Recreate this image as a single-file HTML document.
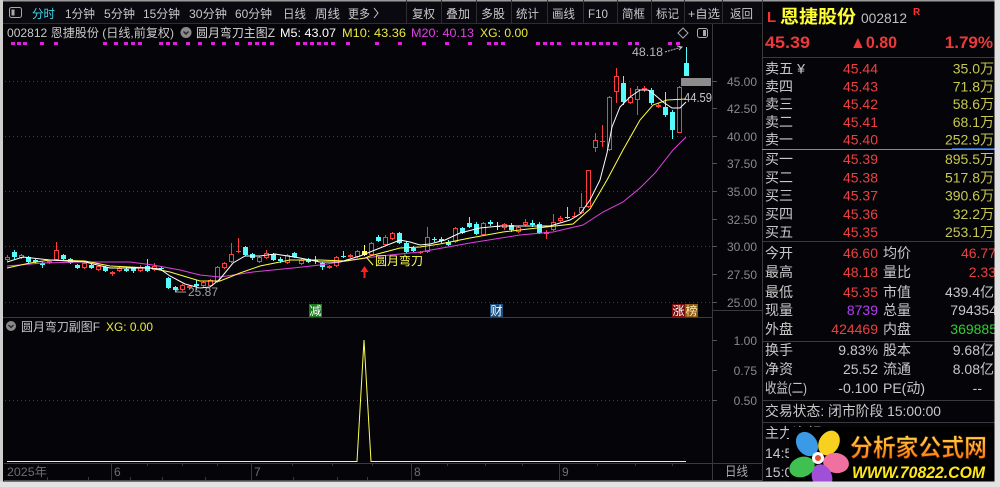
<!DOCTYPE html>
<html><head><meta charset="utf-8">
<style>
html,body{margin:0;padding:0;background:#050509;width:1000px;height:487px;overflow:hidden;}
svg{display:block;}
text{font-family:"Liberation Sans","Noto Sans CJK SC",sans-serif;}
.wr{stroke:#ff3c3c;stroke-width:1;fill:none}
.rb{fill:#050509;stroke:#ff3c3c;stroke-width:1}
.wc{stroke:#54fcfc;stroke-width:1;fill:none}
.cb{fill:#54fcfc}
.tb{fill:#c8c8c8;font-size:12px}
.ax{fill:#8a8a8a;font-size:12px}
.lb{fill:#c8c8c8;font-size:14px}
.rd{fill:#ec4040;font-size:14px}
.ol{fill:#c8c850;font-size:14px}
.gy{fill:#c8c8c8;font-size:14px}
</style></head><body>
<svg width="1000" height="487" viewBox="0 0 1000 487" xmlns="http://www.w3.org/2000/svg">
<defs>
<linearGradient id="og" x1="0" y1="0" x2="0" y2="1">
<stop offset="0" stop-color="#ffd84a"/><stop offset="1" stop-color="#ff6a00"/>
</linearGradient>
</defs>
<rect width="1000" height="487" fill="#050509"/>
<!-- toolbar -->
<rect x="0" y="0" width="762" height="23" fill="#09090f"/>
<rect x="0" y="0" width="1000" height="1.5" fill="#9a9a9a"/>
<line x1="0" y1="23.5" x2="762" y2="23.5" stroke="#2e2e2e"/>
<rect x="9.5" y="7.5" width="12" height="10" rx="2" fill="none" stroke="#aaa"/>
<rect x="11.5" y="9.5" width="3" height="6" fill="#aaa"/>
<text x="32" y="18" class="tb" style="fill:#40d8e8" textLength="23" lengthAdjust="spacingAndGlyphs">分时</text>
<text x="65" y="18" class="tb" textLength="30" lengthAdjust="spacingAndGlyphs">1分钟</text>
<text x="104" y="18" class="tb" textLength="31" lengthAdjust="spacingAndGlyphs">5分钟</text>
<text x="143" y="18" class="tb" textLength="37" lengthAdjust="spacingAndGlyphs">15分钟</text>
<text x="189" y="18" class="tb" textLength="38" lengthAdjust="spacingAndGlyphs">30分钟</text>
<text x="235" y="18" class="tb" textLength="37" lengthAdjust="spacingAndGlyphs">60分钟</text>
<text x="283" y="18" class="tb" textLength="23" lengthAdjust="spacingAndGlyphs">日线</text>
<text x="315" y="18" class="tb" textLength="25" lengthAdjust="spacingAndGlyphs">周线</text>
<text x="348" y="18" class="tb" textLength="22" lengthAdjust="spacingAndGlyphs">更多</text>
<path d="M374 8 L378 13 L374 18" fill="none" stroke="#c8c8c8" stroke-width="1"/>
<g stroke="#2e2e2e">
<line x1="406.5" y1="0" x2="406.5" y2="23"/><line x1="441.5" y1="0" x2="441.5" y2="23"/>
<line x1="476.5" y1="0" x2="476.5" y2="23"/><line x1="511.5" y1="0" x2="511.5" y2="23"/>
<line x1="547.5" y1="0" x2="547.5" y2="23"/><line x1="583.5" y1="0" x2="583.5" y2="23"/>
<line x1="617.5" y1="0" x2="617.5" y2="23"/><line x1="651.5" y1="0" x2="651.5" y2="23"/>
<line x1="684.5" y1="0" x2="684.5" y2="23"/><line x1="722.5" y1="0" x2="722.5" y2="23"/>
</g>
<text x="412" y="18" class="tb" textLength="23" lengthAdjust="spacingAndGlyphs">复权</text>
<text x="446" y="18" class="tb" textLength="24" lengthAdjust="spacingAndGlyphs">叠加</text>
<text x="481" y="18" class="tb" textLength="24" lengthAdjust="spacingAndGlyphs">多股</text>
<text x="516" y="18" class="tb" textLength="23" lengthAdjust="spacingAndGlyphs">统计</text>
<text x="552" y="18" class="tb" textLength="23" lengthAdjust="spacingAndGlyphs">画线</text>
<text x="588" y="18" class="tb" textLength="20" lengthAdjust="spacingAndGlyphs">F10</text>
<text x="622" y="18" class="tb" textLength="23" lengthAdjust="spacingAndGlyphs">简框</text>
<text x="656" y="18" class="tb" textLength="23" lengthAdjust="spacingAndGlyphs">标记</text>
<text x="688" y="18" class="tb" textLength="32" lengthAdjust="spacingAndGlyphs">+自选</text>
<text x="730" y="18" class="tb" textLength="23" lengthAdjust="spacingAndGlyphs">返回</text>

<!-- chart header -->
<text x="7" y="37" class="tb" textLength="167" lengthAdjust="spacingAndGlyphs">002812 恩捷股份 (日线,前复权)</text>
<circle cx="186" cy="32.5" r="5.5" fill="#8a8a8a"/>
<path d="M183.5 31.5 L186 34 L188.5 31.5" fill="none" stroke="#222" stroke-width="1.4"/>
<text x="196" y="37" class="tb" style="fill:#d8d8d8" textLength="79" lengthAdjust="spacingAndGlyphs">圆月弯刀主图Z</text>
<text x="280" y="37" font-size="12" fill="#ffffff" textLength="56" lengthAdjust="spacingAndGlyphs">M5: 43.07</text>
<text x="342" y="37" font-size="12" fill="#e8e840" textLength="64" lengthAdjust="spacingAndGlyphs">M10: 43.36</text>
<text x="411" y="37" font-size="12" fill="#e040e0" textLength="63" lengthAdjust="spacingAndGlyphs">M20: 40.13</text>
<text x="480" y="37" font-size="12" fill="#e8e840" textLength="48" lengthAdjust="spacingAndGlyphs">XG: 0.00</text>
<path d="M683 28 L688 33 L683 38 L678 33 Z" fill="none" stroke="#aaa"/>
<rect x="697.5" y="28.5" width="10" height="9" rx="2" fill="none" stroke="#aaa"/>
<rect x="703" y="30" width="3" height="6" fill="#aaa"/>

<!-- magenta dots -->
<g fill="#e020e0">
<rect x="11" y="42" width="4" height="3"/><rect x="17" y="42" width="4" height="3"/><rect x="23" y="42" width="4" height="3"/>
<rect x="40" y="42" width="4" height="3"/><rect x="54" y="42" width="4" height="3"/><rect x="103" y="42" width="4" height="3"/>
<rect x="114" y="42" width="4" height="3"/><rect x="124" y="42" width="4" height="3"/><rect x="131" y="42" width="4" height="3"/>
<rect x="138" y="42" width="4" height="3"/><rect x="159" y="42" width="4" height="3"/><rect x="166" y="42" width="4" height="3"/>
<rect x="173" y="42" width="4" height="3"/><rect x="186" y="42" width="4" height="3"/><rect x="198" y="42" width="4" height="3"/>
<rect x="211" y="42" width="4" height="3"/><rect x="222" y="42" width="4" height="3"/><rect x="235" y="42" width="4" height="3"/>
<rect x="248" y="42" width="4" height="3"/><rect x="255" y="42" width="4" height="3"/><rect x="262" y="42" width="4" height="3"/>
<rect x="270" y="42" width="4" height="3"/><rect x="296" y="42" width="4" height="3"/><rect x="303" y="42" width="4" height="3"/>
<rect x="310" y="42" width="4" height="3"/><rect x="317" y="42" width="4" height="3"/><rect x="324" y="42" width="4" height="3"/>
<rect x="331" y="42" width="4" height="3"/><rect x="346" y="42" width="4" height="3"/><rect x="375" y="42" width="4" height="3"/>
<rect x="398" y="42" width="4" height="3"/><rect x="422" y="42" width="4" height="3"/><rect x="445" y="42" width="4" height="3"/>
<rect x="468" y="42" width="4" height="3"/><rect x="487" y="42" width="4" height="3"/><rect x="494" y="42" width="4" height="3"/>
<rect x="501" y="42" width="4" height="3"/><rect x="536" y="42" width="4" height="3"/><rect x="543" y="42" width="4" height="3"/>
<rect x="550" y="42" width="4" height="3"/><rect x="557" y="42" width="4" height="3"/><rect x="571" y="42" width="4" height="3"/>
<rect x="578" y="42" width="4" height="3"/><rect x="585" y="42" width="4" height="3"/><rect x="592" y="42" width="4" height="3"/>
<rect x="599" y="42" width="4" height="3"/><rect x="606" y="42" width="4" height="3"/><rect x="613" y="42" width="4" height="3"/>
<rect x="628" y="42" width="4" height="3"/><rect x="635" y="42" width="4" height="3"/><rect x="668" y="42" width="4" height="3"/>
<rect x="676" y="42" width="4" height="3"/>
</g>

<!-- grid -->
<g stroke="#3c3c4a" stroke-dasharray="1,3">
<line x1="5" y1="81.5" x2="712" y2="81.5"/>
<line x1="5" y1="136.5" x2="712" y2="136.5"/>
<line x1="5" y1="191.5" x2="712" y2="191.5"/>
<line x1="5" y1="246.5" x2="712" y2="246.5"/>
<line x1="5" y1="302.5" x2="712" y2="302.5"/>
<line x1="5" y1="400.5" x2="712" y2="400.5"/>
</g>

<!-- panel borders -->
<line x1="712.5" y1="24" x2="712.5" y2="480" stroke="#3a3a3a"/>
<line x1="762.5" y1="0" x2="762.5" y2="481" stroke="#3a3a3a"/>
<line x1="0" y1="317.5" x2="712" y2="317.5" stroke="#3a3a3a"/>
<line x1="712" y1="310.5" x2="762" y2="310.5" stroke="#3a3a3a"/>

<!-- price axis -->
<g stroke="#555">
<line x1="712" y1="81.5" x2="717" y2="81.5"/><line x1="712" y1="108.5" x2="717" y2="108.5"/>
<line x1="712" y1="136.5" x2="717" y2="136.5"/><line x1="712" y1="163.5" x2="717" y2="163.5"/>
<line x1="712" y1="191.5" x2="717" y2="191.5"/><line x1="712" y1="219.5" x2="717" y2="219.5"/>
<line x1="712" y1="246.5" x2="717" y2="246.5"/><line x1="712" y1="274.5" x2="717" y2="274.5"/>
<line x1="712" y1="302.5" x2="717" y2="302.5"/>
<line x1="712" y1="340.5" x2="717" y2="340.5"/><line x1="712" y1="370.5" x2="717" y2="370.5"/>
<line x1="712" y1="400.5" x2="717" y2="400.5"/>
</g>
<g class="ax" text-anchor="end">
<text x="757" y="86" class="ax">45.00</text>
<text x="757" y="113" class="ax">42.50</text>
<text x="757" y="141" class="ax">40.00</text>
<text x="757" y="168" class="ax">37.50</text>
<text x="757" y="196" class="ax">35.00</text>
<text x="757" y="224" class="ax">32.50</text>
<text x="757" y="251" class="ax">30.00</text>
<text x="757" y="279" class="ax">27.50</text>
<text x="757" y="307" class="ax">25.00</text>
<text x="757" y="345" class="ax">1.00</text>
<text x="757" y="375" class="ax">0.75</text>
<text x="757" y="405" class="ax">0.50</text>
</g>

<!-- candles -->
<g>
<path class="wr" d="M7.5 255V261"/><rect class="rb" x="5.5" y="257.5" width="4" height="2"/>
<path class="wc" d="M14.5 250V259"/><rect class="cb" x="12" y="252" width="5" height="5"/>
<path class="wr" d="M21.5 254V259"/><rect class="rb" x="19.5" y="255.5" width="4" height="2"/>
<path class="wc" d="M28.5 256V263"/><rect class="cb" x="26" y="257" width="5" height="5"/>
<path class="wc" d="M35.5 259V264"/><rect class="cb" x="33" y="260" width="5" height="2"/>
<path class="wc" d="M42.5 262V268"/><rect class="cb" x="40" y="263" width="5" height="2"/>
<path class="wr" d="M49.5 260V264"/><rect class="rb" x="47.5" y="261.5" width="4" height="1"/>
<path class="wr" d="M56.5 242V261"/><rect class="rb" x="54.5" y="250.5" width="4" height="9"/>
<path class="wc" d="M63.5 254V260"/><rect class="cb" x="61" y="255" width="5" height="4"/>
<path class="wc" d="M70.5 258V264"/><rect class="cb" x="68" y="259" width="5" height="4"/>
<path class="wc" d="M77.5 264V269"/><rect class="cb" x="75" y="265" width="5" height="3"/>
<path class="wr" d="M84.5 262V269"/><rect class="rb" x="82.5" y="263.5" width="4" height="4"/>
<path class="wc" d="M91.5 264V269"/><rect class="cb" x="89" y="265" width="5" height="3"/>
<path class="wr" d="M98.5 265V271"/><rect class="rb" x="96.5" y="266.5" width="4" height="3"/>
<path class="wc" d="M105.5 266V272"/><rect class="cb" x="103" y="267" width="5" height="4"/>
<path class="wr" d="M112.5 271V276"/><rect class="rb" x="110.5" y="272.5" width="4" height="1"/>
<path class="wr" d="M119.5 267V272"/><rect class="rb" x="117.5" y="268.5" width="4" height="2"/>
<path class="wc" d="M126.5 267V272"/><rect class="cb" x="124" y="269" width="5" height="2"/>
<path class="wc" d="M133.5 267V273"/><rect class="cb" x="131" y="268" width="5" height="3"/>
<path class="wr" d="M140.5 265V272"/><rect class="rb" x="138.5" y="267.5" width="4" height="3"/>
<path class="wc" d="M147.5 259V272"/><rect class="cb" x="145" y="266" width="5" height="5"/>
<path class="wr" d="M154.5 263V271"/><rect class="rb" x="152.5" y="266.5" width="4" height="3"/>
<path class="wc" d="M161.5 266V271"/><rect class="cb" x="159" y="268" width="5" height="1"/>
<path class="wc" d="M168.5 277V289"/><rect class="cb" x="166" y="278" width="5" height="10"/>
<path class="wc" d="M175.5 286V292"/><rect class="cb" x="173" y="287" width="5" height="3"/>
<path class="wr" d="M182.5 284V291"/><rect class="rb" x="180.5" y="285.5" width="4" height="4"/>
<path class="wr" d="M189.5 285V289"/><rect class="rb" x="187.5" y="286.5" width="4" height="1"/>
<path class="wc" d="M196.5 280V290"/><rect class="cb" x="194" y="284" width="5" height="2"/>
<path class="wr" d="M203.5 281V288"/><rect class="rb" x="201.5" y="282.5" width="4" height="3"/>
<path class="wr" d="M210.5 279V287"/><rect class="rb" x="208.5" y="280.5" width="4" height="5"/>
<path class="wr" d="M217.5 266V283"/><rect class="rb" x="215.5" y="267.5" width="4" height="14"/>
<path class="wr" d="M224.5 262V269"/><rect class="rb" x="222.5" y="263.5" width="4" height="4"/>
<path class="wr" d="M231.5 243V263"/><rect class="rb" x="229.5" y="254.5" width="4" height="7"/>
<path class="wr" d="M238.5 238V253"/><path class="wr" d="M236 251.5H241"/>
<path class="wc" d="M245.5 246V256"/><rect class="cb" x="243" y="247" width="5" height="8"/>
<path class="wc" d="M252.5 253V260"/><rect class="cb" x="250" y="254" width="5" height="4"/>
<path class="wr" d="M259.5 256V263"/><rect class="rb" x="257.5" y="257.5" width="4" height="4"/>
<path class="wr" d="M266.5 250V259"/><rect class="rb" x="264.5" y="253.5" width="4" height="4"/>
<path class="wc" d="M273.5 253V261"/><rect class="cb" x="271" y="254" width="5" height="6"/>
<path class="wc" d="M280.5 257V263"/><rect class="cb" x="278" y="259" width="5" height="2"/>
<path class="wr" d="M287.5 254V264"/><rect class="rb" x="285.5" y="255.5" width="4" height="7"/>
<path class="wc" d="M294.5 252V258"/><rect class="cb" x="292" y="253" width="5" height="4"/>
<path class="wr" d="M301.5 259V265"/><rect class="rb" x="299.5" y="260.5" width="4" height="3"/>
<path class="wc" d="M308.5 258V263"/><rect class="cb" x="306" y="259" width="5" height="3"/>
<path class="wc" d="M315.5 256V264"/><rect class="cb" x="313" y="260" width="5" height="1"/>
<path class="wc" d="M322.5 262V270"/><rect class="cb" x="320" y="263" width="5" height="4"/>
<path class="wr" d="M329.5 265V269"/><rect class="rb" x="327.5" y="266.5" width="4" height="1"/>
<path class="wr" d="M336.5 256V267"/><rect class="rb" x="334.5" y="257.5" width="4" height="8"/>
<path class="wc" d="M343.5 251V258"/><rect class="cb" x="341" y="256" width="5" height="1"/>
<path class="wr" d="M350.5 254V258"/><rect class="rb" x="348.5" y="255.5" width="4" height="1"/>
<path class="wr" d="M357.5 250V258"/><rect class="rb" x="355.5" y="251.5" width="4" height="5"/>
<path d="M364.5 245V256" stroke="#ffff60" fill="none"/><rect x="362" y="251" width="5" height="4" fill="#ffff60"/>
<path class="wr" d="M371.5 242V256"/><rect class="rb" x="369.5" y="243.5" width="4" height="11"/>
<path class="wc" d="M378.5 235V242"/><rect class="cb" x="376" y="237" width="5" height="4"/>
<path class="wr" d="M385.5 235V246"/><rect class="rb" x="383.5" y="237.5" width="4" height="7"/>
<path class="wr" d="M392.5 232V240"/><rect class="rb" x="390.5" y="233.5" width="4" height="5"/>
<path class="wc" d="M399.5 232V244"/><rect class="cb" x="397" y="233" width="5" height="10"/>
<path class="wc" d="M406.5 241V253"/><rect class="cb" x="404" y="243" width="5" height="9"/>
<path class="wc" d="M413.5 246V252"/><rect class="cb" x="411" y="248" width="5" height="3"/>
<path class="wr" d="M420.5 251V254"/><path class="wr" d="M418 252.5H423"/>
<path class="wr" d="M427.5 227V253"/><rect class="rb" x="425.5" y="237.5" width="4" height="14"/>
<path class="wc" d="M434.5 237V242"/><rect class="cb" x="432" y="239" width="5" height="1"/>
<path class="wc" d="M441.5 237V243"/><rect class="cb" x="439" y="239" width="5" height="2"/>
<path class="wc" d="M448.5 240V246"/><rect class="cb" x="446" y="242" width="5" height="3"/>
<path class="wr" d="M455.5 227V243"/><rect class="rb" x="453.5" y="228.5" width="4" height="13"/>
<path class="wc" d="M462.5 227V234"/><rect class="cb" x="460" y="228" width="5" height="5"/>
<path class="wc" d="M469.5 217V228"/><rect class="cb" x="467" y="223" width="5" height="4"/>
<path class="wc" d="M476.5 222V235"/><rect class="cb" x="474" y="224" width="5" height="10"/>
<path class="wr" d="M483.5 222V236"/><rect class="rb" x="481.5" y="223.5" width="4" height="11"/>
<path class="wc" d="M490.5 220V226"/><rect class="cb" x="488" y="222" width="5" height="2"/>
<path d="M497.5 222V230M495 226.5H500" stroke="#dddddd" fill="none"/>
<path class="wr" d="M504.5 223V230"/><rect class="rb" x="502.5" y="224.5" width="4" height="3"/>
<path class="wc" d="M511.5 223V232"/><rect class="cb" x="509" y="225" width="5" height="5"/>
<path class="wr" d="M518.5 226V233"/><rect class="rb" x="516.5" y="227.5" width="4" height="4"/>
<path class="wr" d="M525.5 219V226"/><rect class="rb" x="523.5" y="222.5" width="4" height="2"/>
<path class="wc" d="M532.5 220V227"/><rect class="cb" x="530" y="223" width="5" height="2"/>
<path class="wc" d="M539.5 222V234"/><rect class="cb" x="537" y="224" width="5" height="9"/>
<path class="wr" d="M546.5 230V239"/><rect class="rb" x="544.5" y="232.5" width="4" height="1"/>
<path class="wr" d="M553.5 214V231"/><rect class="rb" x="551.5" y="222.5" width="4" height="7"/>
<path class="wr" d="M560.5 216V222"/><rect class="rb" x="558.5" y="218.5" width="4" height="2"/>
<path class="wc" d="M567.5 207V219"/><rect class="cb" x="565" y="217" width="5" height="1"/>
<path class="wr" d="M574.5 212V218"/><path class="wr" d="M572 216.5H577"/>
<path class="wr" d="M581.5 193V214"/><rect class="rb" x="579.5" y="207.5" width="4" height="5"/>
<path class="wr" d="M588.5 170V208"/><rect class="rb" x="586.5" y="170.5" width="4" height="36"/>
<path class="wr" d="M595.5 133V152"/><rect class="rb" x="593.5" y="140.5" width="4" height="7"/>
<path class="wr" d="M602.5 125V147"/><path class="wr" d="M600 141.5H605"/>
<path class="wr" d="M609.5 96V151"/><rect class="rb" x="607.5" y="97.5" width="4" height="52"/>
<path class="wr" d="M616.5 68V103"/><rect class="rb" x="614.5" y="76.5" width="4" height="15"/>
<path class="wc" d="M623.5 76V105"/><rect class="cb" x="621" y="83" width="5" height="19"/>
<path class="wr" d="M630.5 88V104"/><rect class="rb" x="628.5" y="97.5" width="4" height="5"/>
<path class="wr" d="M637.5 86V115"/><rect class="rb" x="635.5" y="89.5" width="4" height="10"/>
<path class="wr" d="M644.5 86V92"/><rect x="642" y="88" width="5" height="2" fill="#ff3c3c"/>
<path class="wc" d="M651.5 88V105"/><rect class="cb" x="649" y="90" width="5" height="13"/>
<path class="wr" d="M658.5 103V108"/><rect class="rb" x="656.5" y="105.5" width="4" height="1"/>
<path class="wc" d="M665.5 92V117"/><rect class="cb" x="663" y="107" width="5" height="8"/>
<path class="wc" d="M672.5 110V139"/><rect class="cb" x="670" y="112" width="5" height="18"/>
<path class="wr" d="M679.5 86V133"/><rect class="rb" x="677.5" y="87.5" width="4" height="45"/>
<path class="wc" d="M686.5 47V76"/><rect class="cb" x="684" y="63" width="5" height="13"/>
</g>

<!-- moving averages -->
<polyline fill="none" stroke="#e040e0" stroke-width="1" points="7,266 43,263 80,262 130,262 153,265 180,270 200,275 220,277 253,272 293,268 320,265 353,260 380,256 420,252 470,243 520,235 553,232 583,225 603,212 623,202 640,188 655,173 673,150 686,137"/>
<polyline fill="none" stroke="#ffff40" stroke-width="1" points="7,268 30,263 50,260 85,261 110,266 150,268 170,272 200,281 220,281 240,273 260,266 290,260 320,260 345,261 365,258 370,256 400,248 420,247 440,244 470,238 503,232 537,228 573,224 590,209 607,180 623,150 640,120 653,105 667,100 686,99"/>
<polyline fill="none" stroke="#ffffff" stroke-width="1" points="7,262 23,257 50,260 85,262 110,268 150,268 160,269 170,276 185,284 200,288 210,287 220,279 233,263 245,256 260,256 275,254 300,258 320,262 340,262 360,256 370,252 385,246 400,240 410,242 420,245 430,244 445,240 460,233 480,228 500,226 530,226 550,226 570,220 580,214 590,200 600,180 607,153 612,127 620,107 630,97 640,90 648,90 655,95 663,102 672,108 680,108 686,102"/>

<!-- price marker -->
<rect x="681" y="78" width="30" height="8" fill="#8c8c8c"/>
<text x="684" y="102" font-size="13" fill="#c8c8c8" textLength="28" lengthAdjust="spacingAndGlyphs">44.59</text>
<text x="632" y="56" font-size="12" fill="#b8b8b8" textLength="31" lengthAdjust="spacingAndGlyphs">48.18</text>
<path d="M665 52 L682 47" stroke="#c0c0c0" stroke-dasharray="2,1" fill="none"/>
<path d="M677 46 L682 47 L679 50" stroke="#c0c0c0" fill="none"/>
<text x="188" y="296" font-size="12" fill="#a0a0a0" textLength="30" lengthAdjust="spacingAndGlyphs">25.87</text>
<path d="M175 292 L186 292 M175 292 L179 289" stroke="#a0a0a0" fill="none"/>

<!-- signal label -->
<path d="M367 258 L373 265" stroke="#ffff50" fill="none"/>
<text x="375" y="265" font-size="12" fill="#ffff50" textLength="48" lengthAdjust="spacingAndGlyphs">圆月弯刀</text>
<path d="M364.5 266 L360.5 272 L363.5 272 L363.5 278 L365.5 278 L365.5 272 L368.5 272 Z" fill="#ff2020"/>

<!-- badges -->
<rect x="309" y="304" width="13" height="13" fill="#1e7a1e"/>
<text x="315.5" y="315" font-size="12" fill="#ffffff" text-anchor="middle">减</text>
<rect x="490" y="304" width="13" height="13" fill="#1a4f80"/>
<text x="496.5" y="315" font-size="12" fill="#ffffff" text-anchor="middle">财</text>
<rect x="672" y="304" width="13" height="13" fill="#7a0c0c"/>
<rect x="685" y="304" width="13" height="13" fill="#8c5a12"/>
<text x="678.5" y="315" font-size="12" fill="#ffffff" text-anchor="middle">涨</text>
<text x="691.5" y="315" font-size="12" fill="#ffe8b0" text-anchor="middle">榜</text>

<!-- sub chart -->
<circle cx="11" cy="326" r="5" fill="#8a8a8a"/>
<path d="M8.5 325 L11 327.5 L13.5 325" fill="none" stroke="#222" stroke-width="1.3"/>
<text x="21" y="331" class="tb" textLength="79" lengthAdjust="spacingAndGlyphs">圆月弯刀副图F</text>
<text x="106" y="331" font-size="12" fill="#e8e840" textLength="47" lengthAdjust="spacingAndGlyphs">XG: 0.00</text>
<polyline fill="none" stroke="#ffff50" stroke-width="1" points="7,461.5 357,461.5 364,340 371,461.5 686,461.5"/>

<!-- time axis -->
<line x1="4" y1="463.5" x2="762" y2="463.5" stroke="#3a3a3a"/>
<line x1="4" y1="480.5" x2="762" y2="480.5" stroke="#4a4a4a"/>
<g stroke="#3a3a3a">
<line x1="111.5" y1="463" x2="111.5" y2="480"/><line x1="251.5" y1="463" x2="251.5" y2="480"/>
<line x1="411.5" y1="463" x2="411.5" y2="480"/><line x1="559.5" y1="463" x2="559.5" y2="480"/>
<line x1="147.5" y1="463" x2="147.5" y2="466"/><line x1="182.5" y1="463" x2="182.5" y2="466"/>
<line x1="217.5" y1="463" x2="217.5" y2="466"/><line x1="292.5" y1="463" x2="292.5" y2="466"/>
<line x1="332.5" y1="463" x2="332.5" y2="466"/><line x1="372.5" y1="463" x2="372.5" y2="466"/>
<line x1="447.5" y1="463" x2="447.5" y2="466"/><line x1="485.5" y1="463" x2="485.5" y2="466"/>
<line x1="522.5" y1="463" x2="522.5" y2="466"/><line x1="597.5" y1="463" x2="597.5" y2="466"/>
<line x1="635.5" y1="463" x2="635.5" y2="466"/><line x1="672.5" y1="463" x2="672.5" y2="466"/>
<line x1="47.5" y1="477" x2="47.5" y2="480"/><line x1="88.5" y1="477" x2="88.5" y2="480"/>
<line x1="130.5" y1="477" x2="130.5" y2="480"/><line x1="162.5" y1="477" x2="162.5" y2="480"/>
<line x1="205.5" y1="477" x2="205.5" y2="480"/><line x1="293.5" y1="477" x2="293.5" y2="480"/>
<line x1="337.5" y1="477" x2="337.5" y2="480"/><line x1="367.5" y1="477" x2="367.5" y2="480"/>
</g>
<text x="7" y="476" font-size="12" fill="#6e6e6e" textLength="40" lengthAdjust="spacingAndGlyphs">2025年</text>
<text x="114" y="476" font-size="12" fill="#6e6e6e">6</text>
<text x="254" y="476" font-size="12" fill="#6e6e6e">7</text>
<text x="414" y="476" font-size="12" fill="#6e6e6e">8</text>
<text x="562" y="476" font-size="12" fill="#6e6e6e">9</text>
<text x="725" y="476" font-size="13" fill="#a8a8a8" textLength="23" lengthAdjust="spacingAndGlyphs">日线</text>

<!-- right panel -->
<text x="767" y="22" font-size="15" font-weight="bold" fill="#ff3030">L</text>
<text x="780" y="23" font-size="18" font-weight="bold" fill="#ffff33" textLength="76" lengthAdjust="spacingAndGlyphs">恩捷股份</text>
<text x="861" y="23" font-size="14" fill="#c0c0c0" textLength="46" lengthAdjust="spacingAndGlyphs">002812</text>
<text x="913" y="15" font-size="10" font-weight="bold" fill="#ff3030">R</text>
<text x="765" y="48" font-size="17" font-weight="bold" fill="#ec3a3a" textLength="45" lengthAdjust="spacingAndGlyphs">45.39</text>
<text x="850" y="48" font-size="17" font-weight="bold" fill="#ec3a3a" textLength="47" lengthAdjust="spacingAndGlyphs">▲0.80</text>
<text x="993" y="48" font-size="17" font-weight="bold" fill="#ec3a3a" text-anchor="end">1.79%</text>
<line x1="762" y1="57.5" x2="995" y2="57.5" stroke="#3a3a3a"/>

<text x="765" y="73.5" class="lb" textLength="40" lengthAdjust="spacingAndGlyphs">卖五 ¥</text>
<text x="765" y="91.5" class="lb">卖四</text>
<text x="765" y="109" class="lb">卖三</text>
<text x="765" y="127" class="lb">卖二</text>
<text x="765" y="144.5" class="lb">卖一</text>
<text x="843" y="73.5" class="rd" textLength="35" lengthAdjust="spacingAndGlyphs">45.44</text>
<text x="843" y="91.5" class="rd" textLength="35" lengthAdjust="spacingAndGlyphs">45.43</text>
<text x="843" y="109" class="rd" textLength="35" lengthAdjust="spacingAndGlyphs">45.42</text>
<text x="843" y="127" class="rd" textLength="35" lengthAdjust="spacingAndGlyphs">45.41</text>
<text x="843" y="144.5" class="rd" textLength="35" lengthAdjust="spacingAndGlyphs">45.40</text>
<g text-anchor="end">
<text x="994" y="73.5" class="ol">35.0万</text>
<text x="994" y="91.5" class="ol">71.8万</text>
<text x="994" y="109" class="ol">58.6万</text>
<text x="994" y="127" class="ol">68.1万</text>
<text x="994" y="144.5" class="ol">252.9万</text>
</g>
<line x1="762" y1="149.5" x2="995" y2="149.5" stroke="#c08030"/>
<line x1="952" y1="148.5" x2="995" y2="148.5" stroke="#3060b0"/>
<text x="765" y="164" class="lb">买一</text>
<text x="765" y="182.5" class="lb">买二</text>
<text x="765" y="200.5" class="lb">买三</text>
<text x="765" y="219" class="lb">买四</text>
<text x="765" y="237" class="lb">买五</text>
<text x="843" y="164" class="rd" textLength="35" lengthAdjust="spacingAndGlyphs">45.39</text>
<text x="843" y="182.5" class="rd" textLength="35" lengthAdjust="spacingAndGlyphs">45.38</text>
<text x="843" y="200.5" class="rd" textLength="35" lengthAdjust="spacingAndGlyphs">45.37</text>
<text x="843" y="219" class="rd" textLength="35" lengthAdjust="spacingAndGlyphs">45.36</text>
<text x="843" y="237" class="rd" textLength="35" lengthAdjust="spacingAndGlyphs">45.35</text>
<g text-anchor="end">
<text x="994" y="164" class="ol">895.5万</text>
<text x="994" y="182.5" class="ol">517.8万</text>
<text x="994" y="200.5" class="ol">390.6万</text>
<text x="994" y="219" class="ol">32.2万</text>
<text x="994" y="237" class="ol">253.1万</text>
</g>
<line x1="762" y1="241.5" x2="995" y2="241.5" stroke="#3a3a3a"/>

<text x="765" y="258" class="lb">今开</text>
<text x="765" y="277" class="lb">最高</text>
<text x="765" y="297" class="lb">最低</text>
<text x="765" y="315" class="lb">现量</text>
<text x="765" y="334" class="lb">外盘</text>
<text x="883" y="258" class="lb">均价</text>
<text x="883" y="277" class="lb">量比</text>
<text x="883" y="297" class="lb">市值</text>
<text x="883" y="315" class="lb">总量</text>
<text x="883" y="334" class="lb">内盘</text>
<g text-anchor="end">
<text x="878" y="258" class="rd">46.60</text>
<text x="878" y="277" class="rd">48.18</text>
<text x="878" y="297" class="rd">45.35</text>
<text x="878" y="315" font-size="14" fill="#b040f0">8739</text>
<text x="878" y="334" class="rd">424469</text>
<text x="996" y="258" class="rd">46.77</text>
<text x="996" y="277" class="rd">2.33</text>
<text x="994" y="297" class="gy">439.4亿</text>
<text x="997" y="315" class="gy">794354</text>
<text x="997" y="334" font-size="14" fill="#30d030">369885</text>
</g>
<line x1="762" y1="341.5" x2="995" y2="341.5" stroke="#3a3a3a"/>
<text x="765" y="355" class="lb">换手</text>
<text x="765" y="374" class="lb">净资</text>
<text x="765" y="393" class="lb" textLength="42" lengthAdjust="spacingAndGlyphs">收益(二)</text>
<text x="883" y="355" class="lb">股本</text>
<text x="883" y="374" class="lb">流通</text>
<text x="883" y="393" class="lb" textLength="42" lengthAdjust="spacingAndGlyphs">PE(动)</text>
<g text-anchor="end">
<text x="878" y="355" class="gy">9.83%</text>
<text x="878" y="374" class="gy">25.52</text>
<text x="878" y="393" class="gy">-0.100</text>
<text x="994" y="355" class="gy">9.68亿</text>
<text x="994" y="374" class="gy">8.08亿</text>
<text x="982" y="393" class="gy">--</text>
</g>
<line x1="762" y1="400.5" x2="995" y2="400.5" stroke="#3a3a3a"/>
<text x="765" y="416" class="lb" textLength="176" lengthAdjust="spacingAndGlyphs">交易状态: 闭市阶段 15:00:00</text>
<line x1="762" y1="422.5" x2="995" y2="422.5" stroke="#3a3a3a"/>
<text x="765" y="438" class="lb" textLength="56" lengthAdjust="spacingAndGlyphs">主力净额</text>
<line x1="857" y1="429.5" x2="878" y2="429.5" stroke="#30d030" stroke-width="2"/>
<text x="955" y="438" font-size="14" fill="#30d030" text-anchor="end">1137万</text>
<text x="994" y="438" font-size="14" fill="#30d030" text-anchor="end">9%</text>
<text x="765" y="458" class="lb">14:59</text>
<text x="765" y="477" class="lb">15:00</text>

<!-- watermark -->
<rect x="789" y="427" width="206" height="60" fill="#000000"/>
<g transform="translate(818,458)">
<ellipse cx="-11" cy="-14" rx="10" ry="13" transform="rotate(-35 -11 -14)" fill="#3a9ae8"/>
<ellipse cx="11" cy="-15" rx="10" ry="13" transform="rotate(30 11 -15)" fill="#f8d020"/>
<ellipse cx="18" cy="5" rx="10" ry="13" transform="rotate(100 18 5)" fill="#f070a0"/>
<ellipse cx="4" cy="19" rx="10" ry="13" transform="rotate(160 4 19)" fill="#a050d8"/>
<ellipse cx="-16" cy="9" rx="10" ry="13" transform="rotate(-110 -16 9)" fill="#40c050"/>
<circle cx="0" cy="0" r="6" fill="#ffffff"/>
<circle cx="0" cy="0" r="3" fill="#e05030"/>
</g>
<text x="850" y="456" font-size="24" font-weight="bold" fill="url(#og)" stroke="#4a1a00" stroke-width="0.6" textLength="137" lengthAdjust="spacingAndGlyphs">分析家公式网</text>
<text x="852" y="478" font-size="17" font-weight="bold" font-style="italic" fill="#ffe81a" textLength="133" lengthAdjust="spacingAndGlyphs">WWW.70822.COM</text>

<!-- window borders -->
<rect x="0" y="0" width="3" height="487" fill="#cfcfcf"/>
<rect x="0" y="481.5" width="1000" height="5.5" fill="#e2e2e2"/>
<rect x="994.5" y="0" width="5.5" height="487" fill="#e2e2e2"/>
</svg>
</body></html>
